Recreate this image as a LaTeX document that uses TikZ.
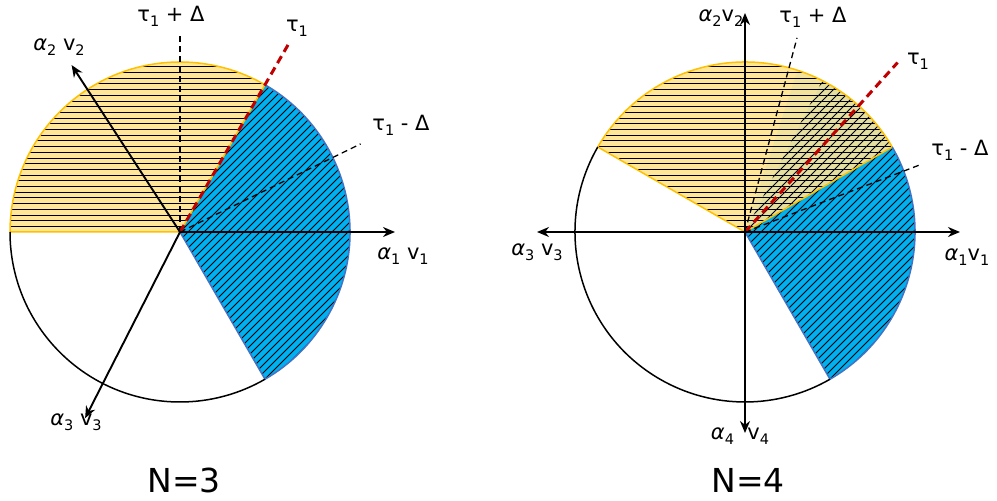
\documentclass[tikz,border=0pt]{standalone}
\usepackage{fontspec}
\setmainfont{DejaVu Sans}
\usetikzlibrary{arrows.meta}
\definecolor{ylwfill}{HTML}{FFE699}
\definecolor{ylwline}{HTML}{FFC000}
\definecolor{bluefill}{HTML}{00B0F0}
\definecolor{blueline}{HTML}{4472C4}
\definecolor{ovfill}{HTML}{E4DEA0}
\definecolor{taured}{HTML}{C00000}
\newcommand\sbs[1]{\raisebox{-0.45ex}{\fontsize{14.5}{14.5}\selectfont #1}}
\newcommand\alf{{\itshape α}}
\begin{document}
\begin{tikzpicture}[x=1pt,y=1pt,
  hatch/.style={line width=0.75pt, black},
  rim/.style={line width=1.5pt},
  guide/.style={black, line width=1.3pt, dash pattern=on 6pt off 4pt},
  tau/.style={taured, line width=3pt, dash pattern=on 8pt off 5pt},
  vec/.style={line width=1.9pt, -{Stealth[length=12pt,width=10pt]}},
  lbl/.style={font=\fontsize{21}{21}\selectfont, inner sep=0pt},
  title/.style={font=\fontsize{33}{33}\selectfont, inner sep=0pt}]
\useasboundingbox (0,0) rectangle (997,501);

% ---------------- N = 3 ----------------
\begin{scope}[shift={(180,269)}]
  \coordinate (L) at (0,0);
  \begin{scope}
    \clip (0,0) -- (60:170) arc[start angle=60,end angle=180,radius=170] -- cycle;
    \fill[ylwfill] (-180,-5) rectangle (180,180);
    \foreach \k in {1,...,31} \draw[hatch] (-180,\k*5.7) -- (180,\k*5.7);
  \end{scope}
  \begin{scope}
    \clip (0,0) -- (-60:170) arc[start angle=-60,end angle=60,radius=170] -- cycle;
    \fill[bluefill] (-5,-180) rectangle (180,180);
    \foreach \k in {-50,...,50} \draw[hatch] (\k*8-200,-200) -- (\k*8+200,200);
  \end{scope}
  \draw[ylwline, rim] (0,0) -- (180:170) arc[start angle=180,end angle=60,radius=170] -- cycle;
  \draw[blueline, rim] (60:170) arc[start angle=60,end angle=-60,radius=170] -- (0,0);
  \draw[black, rim] (180:170) arc[start angle=180,end angle=300,radius=170];
  \coordinate (LtP) at (90:199);
  \coordinate (Lt)  at (60:218);
  \coordinate (LtM) at (26:201);
  \coordinate (La1) at (0:215);
  \coordinate (La2) at (123:199);
  \coordinate (La3) at (243:209);
\end{scope}
\draw[guide] (L) -- (LtP);
\draw[guide] (L) -- (LtM);
\draw[tau] (L) -- (Lt);
\draw[vec] (L) -- (La1);
\draw[vec] (L) -- (La2);
\draw[vec] (L) -- (La3);

\node[lbl] (lLtP) at (171,485) {τ\sbs{1} + Δ};
\node[lbl] (lLt)  at (297,473) {τ\sbs{1}};
\node[lbl] (lLtM) at (401,376) {τ\sbs{1} - Δ};
\node[lbl] (lLa1) at (403,245) {\alf\sbs{1} v\sbs{1}};
\node[lbl] (lLa2) at (59,454) {\alf\sbs{2} v\sbs{2}};
\node[lbl] (lLa3) at (76,79) {\alf\sbs{3} v\sbs{3}};
\node[title] (N3) at (184,21) {N=3};

% ---------------- N = 4 ----------------
\begin{scope}[shift={(745,269)}]
  \coordinate (R) at (0,0);
  \begin{scope}
    \clip (0,0) -- (30:170) arc[start angle=30,end angle=150,radius=170] -- cycle;
    \fill[ylwfill] (-180,-5) rectangle (180,180);
    \fill[ovfill] (0,0) -- (30:175) arc[start angle=30,end angle=63,radius=175] -- cycle;
    \fill[ovfill!50!ylwfill] (0,0) -- (63:175) arc[start angle=63,end angle=72,radius=175] -- cycle;
    \foreach \k in {1,...,31} \draw[hatch] (-180,\k*5.7) -- (180,\k*5.7);
  \end{scope}
  \begin{scope}
    \clip (0,0) -- (30:170) arc[start angle=30,end angle=63,radius=170] -- cycle;
    \foreach \k in {-40,...,40} \draw[hatch] (\k*9-200,-200) -- (\k*9+200,200);
  \end{scope}
  \begin{scope}
    \clip (0,0) -- (-60:170) arc[start angle=-60,end angle=30,radius=170] -- cycle;
    \fill[bluefill] (-5,-180) rectangle (180,180);
    \foreach \k in {-50,...,50} \draw[hatch] (\k*8-200,-200) -- (\k*8+200,200);
  \end{scope}
  \draw[ylwline, rim] (0,0) -- (150:170) arc[start angle=150,end angle=30,radius=170] -- cycle;
  \draw[blueline, rim] (30:170) arc[start angle=30,end angle=-60,radius=170] -- (0,0);
  \draw[black, rim] (150:170) arc[start angle=150,end angle=300,radius=170];
  \coordinate (RtP) at (75:201);
  \coordinate (Rt)  at (48:228);
  \coordinate (RtM) at (21:187);
  \coordinate (Ra1) at (0:215);
  \coordinate (Ra2) at (90:219);
  \coordinate (Ra3) at (180:208);
  \coordinate (Ra4) at (270:201);
\end{scope}
\draw[guide] (R) -- (RtP);
\draw[guide] (R) -- (RtM);
\draw[tau] (R) -- (Rt);
\draw[vec] (R) -- (Ra1);
\draw[vec] (R) -- (Ra2);
\draw[vec] (R) -- (Ra3);
\draw[vec] (R) -- (Ra4);

\node[lbl] (lRtP) at (813,484) {τ\sbs{1} + Δ};
\node[lbl] (lRt)  at (918,440) {τ\sbs{1}};
\node[lbl] (lRtM) at (960,351) {τ\sbs{1} - Δ};
\node[lbl] (lRa1) at (967,244) {\alf\sbs{1}v\sbs{1}};
\node[lbl] (lRa2) at (721,483) {\alf\sbs{2}v\sbs{2}};
\node[lbl] (lRa3) at (537,249) {\alf\sbs{3} v\sbs{3}};
\node[lbl] (lRa4) at (740,65) {\alf\sbs{4} \ v\sbs{4}};
\node[title] (N4) at (748,21) {N=4};
\end{tikzpicture}
\end{document}
